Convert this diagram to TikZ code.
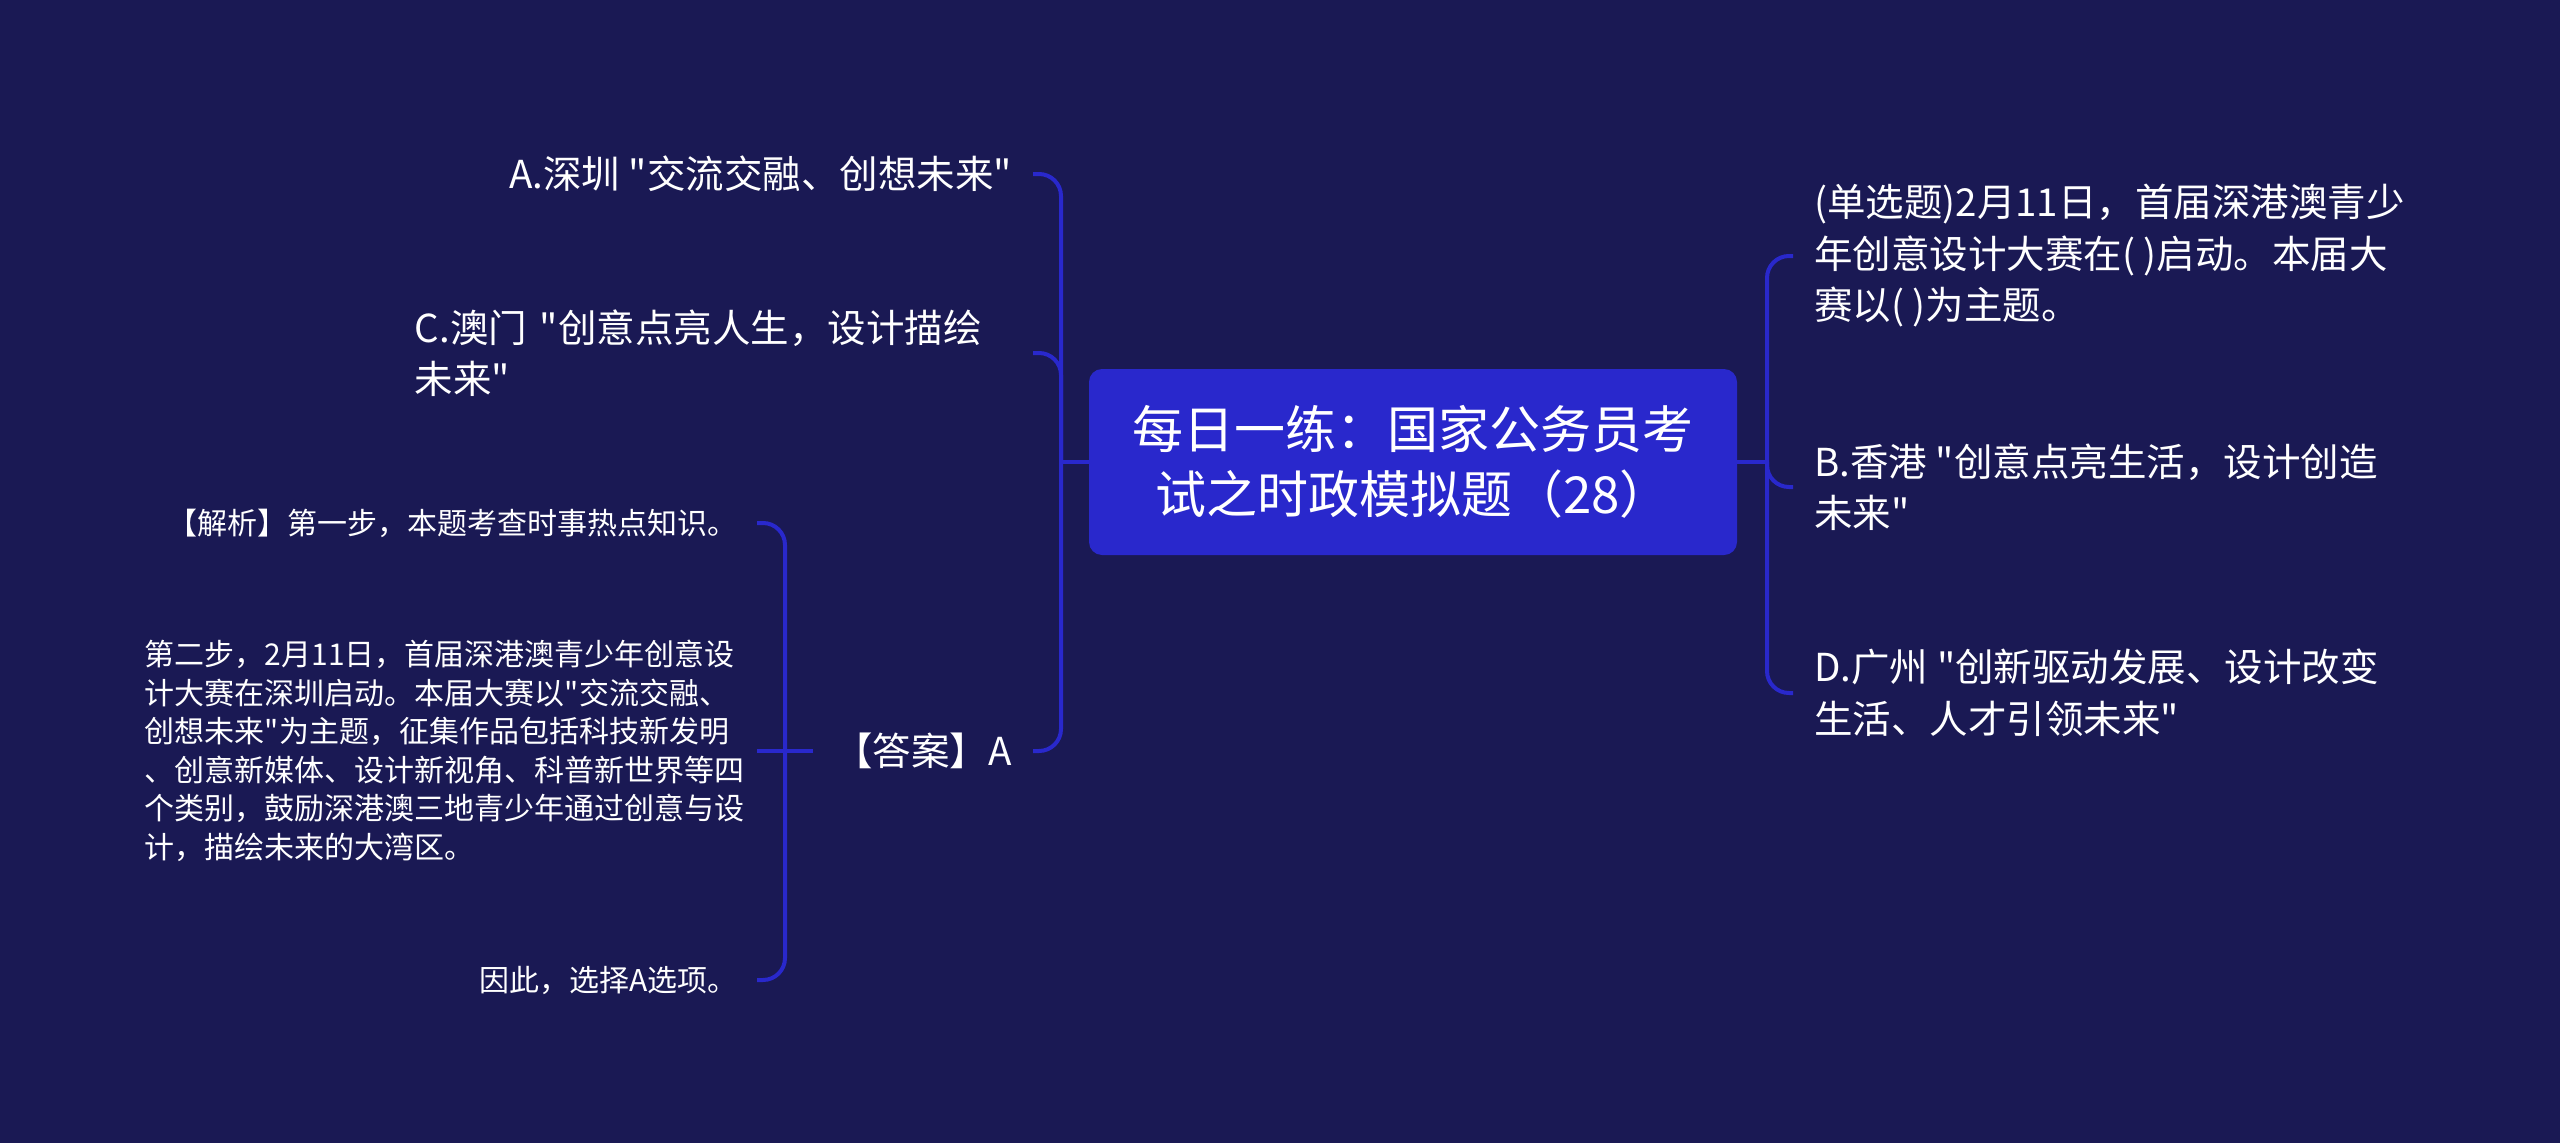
\documentclass[tikz,border=0pt]{standalone}
\usepackage{fontspec}
\setmainfont{Noto Sans CJK SC}[Ligatures=TeXOff]
\definecolor{bg}{RGB}{26,25,84}
\definecolor{blu}{RGB}{41,40,204}
\begin{document}
\begin{tikzpicture}[x=1pt,y=-1pt,
  conn/.style={draw=blu, line width=4pt, rounded corners=22pt},
  lvone/.style={text=white, font=\fontsize{38.5}{51.5}\selectfont, inner xsep=21pt, inner ysep=0pt, align=left},
  lvtwo/.style={text=white, font=\fontsize{30}{38.5}\selectfont, inner xsep=19pt, inner ysep=0pt, align=left},
  root/.style={fill=blu, rounded corners=13pt, text=white, font=\fontsize{51}{65}\selectfont, align=center, minimum width=648pt, minimum height=186pt, inner sep=0pt}]
\fill[bg] (0,0) rectangle (2560,1143);
\useasboundingbox (0,0) rectangle (2560,1143);
\node[root] (R) at (1413,462) {每日一练：国家公务员考\\试之时政模拟题（28）};
% left level one
\node[lvone, anchor=east] (A) at (1033,174) {A.深圳 "交流交融、创想未来"};
\node[lvone, anchor=east, text width=597pt] (C) at (1033,353) {C.澳门 "创意点亮人生，设计描绘\\未来"};
\node[lvone, anchor=east] (Ans) at (1033,751) {【答案】A};
% right level one
\node[lvone, anchor=west] (Q) at (1793,256) {(单选题)2月11日，首届深港澳青少\\年创意设计大赛在( )启动。本届大\\赛以( )为主题。};
\node[lvone, anchor=west] (B) at (1793,487) {B.香港 "创意点亮生活，设计创造\\未来"};
\node[lvone, anchor=west] (D) at (1793,693) {D.广州 "创新驱动发展、设计改变\\生活、人才引领未来"};
% level two
\node[lvtwo, anchor=east] (J) at (757,523) {【解析】第一步，本题考查时事热点知识。};
\node[lvtwo, anchor=east, text width=600pt, inner xsep=12pt] (S) at (757,751) {第二步，2月11日，首届深港澳青少年创意设\\计大赛在深圳启动。本届大赛以"交流交融、\\创想未来"为主题，征集作品包括科技新发明\\、创意新媒体、设计新视角、科普新世界等四\\个类别，鼓励深港澳三地青少年通过创意与设\\计，描绘未来的大湾区。};
\node[lvtwo, anchor=east] (Y) at (757,980) {因此，选择A选项。};
% trunks
\coordinate (LT) at (1061,462);
\coordinate (RT) at (1767,462);
\coordinate (AT) at (785,751);
\draw[conn] (R.west) -- (LT);
\draw[conn] (LT) |- (A.east);
\draw[conn] (LT) |- (C.east);
\draw[conn] (LT) |- (Ans.east);
\draw[conn] (R.east) -- (RT);
\draw[conn] (RT) |- (Q.west);
\draw[conn] (RT) |- (B.west);
\draw[conn] (RT) |- (D.west);
\draw[conn] (Ans.west) -- (AT);
\draw[conn] (AT) |- (J.east);
\draw[conn] (AT) -- (S.east);
\draw[conn] (AT) |- (Y.east);
\end{tikzpicture}
\end{document}
